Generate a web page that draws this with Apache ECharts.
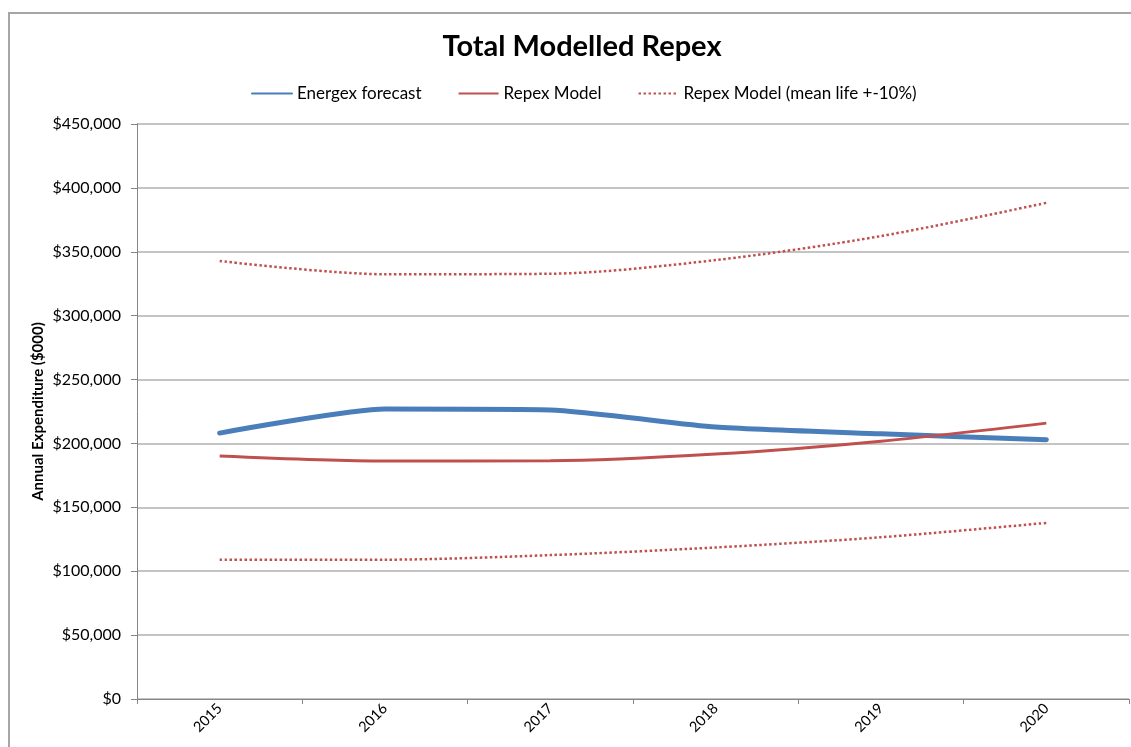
<!DOCTYPE html>
<html>
<head>
<meta charset="utf-8">
<script src="https://cdn.jsdelivr.net/npm/echarts@6/dist/echarts.min.js"></script>
<style>
  html, body { margin: 0; padding: 0; background: #fff; }
  #chart { width: 1131px; height: 747px; }
</style>
</head>
<body>
<div id="chart"></div>
<script>
// Forecast years
const years = ['2015', '2016', '2017', '2018', '2019', '2020'];
// Annual expenditure ($000)
const energexForecast = [208100, 226900, 226200, 212800, 207500, 202900];
const repexModel = [190100, 186200, 186400, 191700, 201800, 215900];
const repexUpper = [342800, 332400, 332800, 343500, 362300, 388300];
const repexLower = [108900, 109000, 112600, 118600, 126600, 137800];

const FONT = 'Lato, "Liberation Sans", sans-serif';
const BLUE = '#4a7ebb';
const RED = '#c0504d';

function money(v) {
  return '$' + String(v).replace(/\B(?=(\d{3})+(?!\d))/g, ',');
}

const chart = echarts.init(document.getElementById('chart'), null, { renderer: 'canvas' });
chart.setOption({
  backgroundColor: '#ffffff',
  animation: false,
  textStyle: { fontFamily: FONT },
  graphic: [{
    type: 'rect',
    shape: { x: 9, y: 13, width: 1300, height: 900 },
    style: { fill: null, stroke: '#a6a6a6', lineWidth: 2 },
    silent: true,
    z: -1
  }],
  title: {
    text: 'Total Modelled Repex',
    left: 577,
    textAlign: 'center',
    top: 27,
    textStyle: { fontFamily: FONT, fontWeight: 'bold', fontSize: 29, color: '#000' }
  },
  legend: {
    left: 246,
    top: 80,
    itemWidth: 40,
    itemHeight: 14,
    itemGap: 36,
    itemStyle: { opacity: 0 },
    textStyle: { fontFamily: FONT, fontSize: 17, color: '#000' },
    data: ['Energex forecast', 'Repex Model', 'Repex Model (mean life +-10%)']
  },
  grid: { left: 137, right: 2, top: 124, bottom: 48, containLabel: false },
  xAxis: {
    type: 'category',
    data: years,
    boundaryGap: true,
    axisLine: { lineStyle: { color: '#868686', width: 1 } },
    axisTick: { show: true, length: 5, alignWithLabel: false, lineStyle: { color: '#868686' } },
    axisLabel: { rotate: 45, fontSize: 14.5, color: '#000', fontFamily: FONT, margin: 7 },
    splitLine: { show: false }
  },
  yAxis: {
    type: 'value',
    min: 0,
    max: 450000,
    interval: 50000,
    name: 'Annual Expenditure ($000)',
    nameLocation: 'middle',
    nameGap: 91,
    nameMoveOverlap: false,
    nameTextStyle: { fontFamily: FONT, fontWeight: 'bold', fontSize: 15, color: '#000' },
    axisLine: { show: true, lineStyle: { color: '#868686', width: 1 } },
    axisTick: { show: true, length: 6, lineStyle: { color: '#868686' } },
    axisLabel: { formatter: money, fontSize: 16, color: '#000', fontFamily: FONT, margin: 16 },
    splitLine: { show: true, lineStyle: { color: '#b0b0b0', width: 1.5 } }
  },
  series: [
    {
      name: 'Energex forecast',
      type: 'line',
      data: energexForecast,
      smooth: 0.2,
      symbol: 'none',
      color: BLUE,
      lineStyle: { color: BLUE, width: 5, cap: 'round', join: 'round' },
      z: 3
    },
    {
      name: 'Repex Model',
      type: 'line',
      data: repexModel,
      smooth: 0.3,
      symbol: 'none',
      color: RED,
      lineStyle: { color: RED, width: 3 },
      z: 4
    },
    {
      name: 'Repex Model (mean life +-10%)',
      type: 'line',
      data: repexUpper,
      smooth: 0.3,
      symbol: 'none',
      color: RED,
      lineStyle: { color: RED, width: 2.5, type: [2.5, 2.5] },
      z: 2
    },
    {
      name: 'Repex Model (mean life +-10%)',
      type: 'line',
      data: repexLower,
      smooth: 0.3,
      symbol: 'none',
      color: RED,
      lineStyle: { color: RED, width: 2.5, type: [2.5, 2.5] },
      z: 2
    }
  ]
});
</script>
</body>
</html>
